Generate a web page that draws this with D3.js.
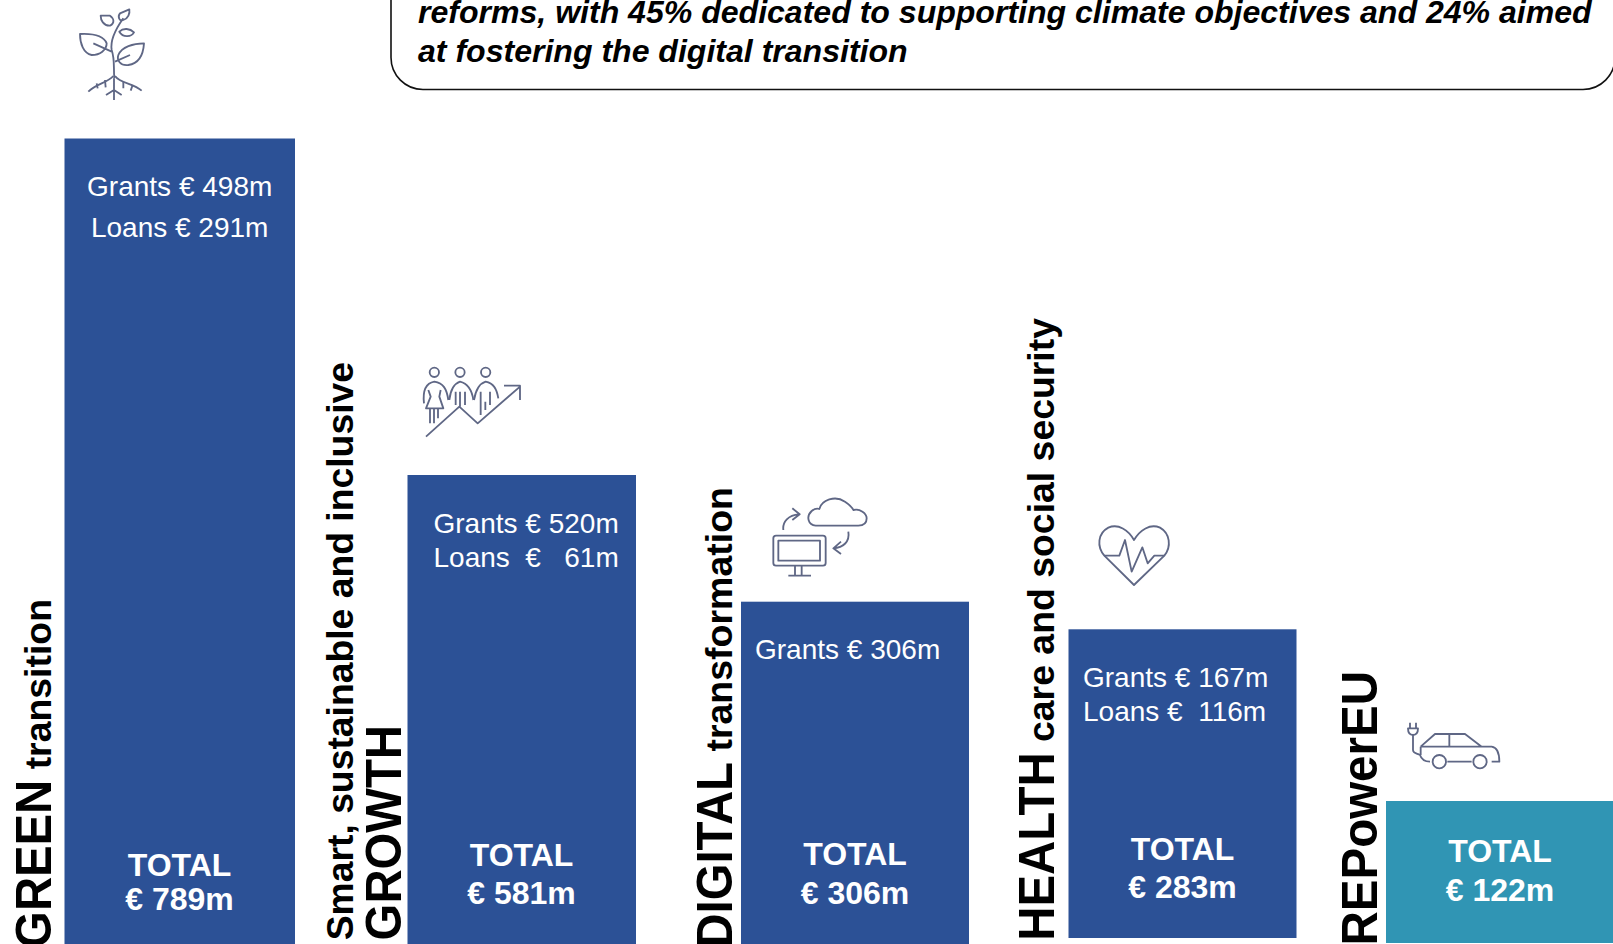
<!DOCTYPE html>
<html>
<head>
<meta charset="utf-8">
<script src="https://cdn.jsdelivr.net/npm/d3@7"></script>
<style>
    html, body { margin: 0; padding: 0; background: #fff; overflow: hidden; }
    svg { display: block; }
    text { font-family: "Liberation Sans", Arial, sans-serif; white-space: pre; }
</style>
</head>
<body>
<div id="chart"></div>
<script>
// --- DATA ---
const categories = ["GREEN", "GROWTH", "DIGITAL", "HEALTH", "REPowerEU"];
const totals = [789, 581, 306, 283, 122];
const grantLabels = ["Grants € 498m", "Grants € 520m", "Grants € 306m", "Grants € 167m", null];
const loanLabels = ["Loans € 291m", "Loans  €   61m", null, "Loans €  116m", null];
const calloutLines = [
    "reforms, with 45% dedicated to supporting climate objectives and 24% aimed",
    "at fostering the digital transition"
];
// [text, font size, stretch across the line]
const sideLabels = [
    [["GREEN", 47.3, 1.07], [" transition", 37.4, 1]],
    [["Smart, sustainable and inclusive", 37.3, 1]],
    [["GROWTH", 47.3, 1.07]],
    [["DIGITAL", 47.3, 1.07], [" transformation", 37.5, 1]],
    [["HEALTH", 47.3, 1.07], [" care and social security", 37.4, 1]],
    [["REPowerEU", 47.5, 1.07]]
];

// --- LAYOUT ---
const width = 1613, height = 944;
const barLeft = [64.5, 407.5, 741, 1068.5, 1386];
const barWidth = [230.5, 228.5, 228, 228, 235];
const barBottom = [950, 950, 950, 938, 943];
const detailX = [179.7, 433.5, 755, 1083, null];
const detailBase = [195.5, 532.5, 658.8, 686.7, null];
const detailStep = [41, 34, 0, 34, 0];
const totalBase = [[875.7, 910.3], [866, 904], [865, 904.3], [859.5, 898], [862, 901]];
const sidePos = [
    { x: 51, y: 599 },
    { x: 353, y: 362 },
    { x: 400.5, y: 725 },
    { x: 732, y: 487 },
    { x: 1054, y: 318 },
    { x: 1376.5, y: 671 }
];

const blue = "#2C5196", teal = "#3095B4", iconColor = "#5F6785";

const svg = d3.select("#chart").append("svg")
    .attr("width", width)
    .attr("height", height)
    .attr("viewBox", `0 0 ${width} ${height}`);

// --- SCALES ---
const xScale = d3.scaleOrdinal().domain(categories).range(barLeft);
const colorScale = d3.scaleOrdinal().domain(categories).range([blue, blue, blue, blue, teal]);

// The source bars are not drawn to scale, so y is piecewise between the totals
const yScale = d3.scaleLinear()
    .domain([122, 283, 306, 581, 789])
    .range([801, 629.3, 601.7, 475, 138.5]);

// --- BARS ---
svg.selectAll(".bar")
    .data(categories)
    .enter().append("rect")
    .attr("class", "bar")
    .attr("x", d => xScale(d))
    .attr("y", (d, i) => yScale(totals[i]))
    .attr("width", (d, i) => barWidth[i])
    .attr("height", (d, i) => barBottom[i] - yScale(totals[i]))
    .style("fill", d => colorScale(d));

// --- TEXT IN BARS ---
categories.forEach((d, i) => {
    const cx = xScale(d) + Math.min(barWidth[i], 228) / 2 + (i === 0 ? 1 : 0);
    svg.append("text")
        .attr("x", cx).attr("y", totalBase[i][0])
        .attr("text-anchor", "middle")
        .style("font-size", "32px").style("font-weight", "bold").style("fill", "#fff")
        .text("TOTAL");
    svg.append("text")
        .attr("x", cx).attr("y", totalBase[i][1])
        .attr("text-anchor", "middle")
        .style("font-size", "32px").style("font-weight", "bold").style("fill", "#fff")
        .text(`€ ${totals[i]}m`);

    [grantLabels[i], loanLabels[i]].forEach((label, k) => {
        if (!label) return;
        svg.append("text")
            .attr("x", detailX[i])
            .attr("y", detailBase[i] + k * detailStep[i])
            .attr("text-anchor", i === 0 ? "middle" : "start")
            .style("font-size", "28px").style("fill", "#fff")
            .text(label);
    });
});

// --- ROTATED LABELS ---
// Each label hangs from its top end; parts are placed backwards from there
sideLabels.forEach((parts, i) => {
    const pos = sidePos[i];
    const g = svg.append("g")
        .attr("transform", `translate(${pos.x},${pos.y}) rotate(-90)`);
    let offset = 0;
    parts.slice().reverse().forEach(p => {
        const t = g.append("text")
            .attr("transform", `translate(${-offset},0) scale(1,${p[2]})`)
            .attr("text-anchor", "end")
            .style("font-weight", "bold")
            .style("font-size", p[1] + "px")
            .style("fill", "#000")
            .text(p[0]);
        offset += t.node().getComputedTextLength();
    });
});

// --- CALLOUT ---
svg.append("rect")
    .attr("x", 391).attr("y", -100)
    .attr("width", 1224).attr("height", 189.5)
    .attr("rx", 32).attr("ry", 32)
    .style("fill", "none").style("stroke", "#111").style("stroke-width", 1.6);

svg.selectAll(".callout")
    .data(calloutLines)
    .enter().append("text")
    .attr("class", "callout")
    .attr("x", 418)
    .attr("y", (d, i) => 22.5 + i * 39)
    .style("font-size", "32.05px").style("font-weight", "bold").style("font-style", "italic")
    .text(d => d);

// --- ICONS (traced in a 3x space, same as the zoomed crops) ---
const icons = [
    { dx: 60, dy: 0, paths: [
        "M163 235C160 200 165 180 155 150C150 120 165 90 190 55",
        "M160 228C140 250 110 250 85 275M165 228C180 250 220 250 245 272M162 235V300M138 285L162 270L185 285",
        "M110 250L113 265M135 240L137 262M190 245L190 265M218 255L212 272",
        "M60 102C100 100 130 105 140 130C140 150 120 165 95 165C70 160 60 130 60 102ZM100 130L155 155",
        "M252 130C220 130 185 140 175 165C170 180 180 198 205 195C240 190 250 160 252 130ZM165 185L210 165",
        "M208 28L180 40C172 50 178 65 190 60C205 55 210 40 208 28Z",
        "M122 47L150 47C162 55 165 70 150 77C130 78 122 60 122 47Z",
        "M178 95C190 83 210 85 222 97C215 110 190 115 178 95Z"
    ] },
    { dx: 410, dy: 355, paths: [
        "M59 52a14 14 0 1 0 28 0a14 14 0 1 0 -28 0M136 52a14 14 0 1 0 28 0a14 14 0 1 0 -28 0M213 52a14 14 0 1 0 28 0a14 14 0 1 0 -28 0",
        "M42 145C38 110 45 85 73 80C100 85 110 100 115 135M55 105L62 125L48 160H100L88 125L92 105",
        "M60 160V205M72 160V205M84 160V190",
        "M118 135C122 100 135 85 150 80C170 85 185 100 190 135M137 110V150M150 110V155M165 110V150",
        "M192 135C198 100 210 85 227 80C250 85 260 100 265 130M212 110V180M226 140V165M240 110V150",
        "M48 245L148 155L203 205L330 95M282 92H330V135"
    ] },
    { dx: 765, dy: 485, paths: [
        "M33 152H174a8 8 0 0 1 8 8V234a8 8 0 0 1 -8 8H33a8 8 0 0 1 -8 -8V160a8 8 0 0 1 8 -8Z",
        "M40 167H165V227H40Z",
        "M90 242V272M110 242V272M70 272H138",
        "M152 122C130 120 122 95 140 78C150 70 158 70 163 72C170 45 210 30 240 50C255 60 262 68 265 75C285 70 305 85 305 100C305 115 295 122 280 122Z",
        "M55 135C52 110 70 90 102 88M82 70L104 88L82 105",
        "M250 140C255 170 235 188 205 190M228 170L205 190L228 207"
    ] },
    { dx: 1085, dy: 515, paths: [
        "M147 210L58 122C35 95 38 55 70 38C100 25 130 45 147 75C165 45 195 25 225 38C255 55 260 95 238 122Z",
        "M58 122H103L120 75L140 170L172 97L188 145L208 122H238"
    ] },
    { dx: 1400, dy: 710, paths: [
        "M30 38V55M48 38V55M24 55H54C54 68 48 75 39 75C30 75 24 68 24 55Z",
        "M39 75V120C39 130 50 130 60 135C65 150 75 155 90 155",
        "M62 110L105 72H195L245 110H275C290 112 298 125 298 155H275M148 72V110M62 110H245M62 110V135",
        "M98 155a20 20 0 1 0 40 0a20 20 0 1 0 -40 0M220 155a20 20 0 1 0 40 0a20 20 0 1 0 -40 0M142 155H215"
    ] }
];

icons.forEach(icon => {
    const g = svg.append("g")
        .attr("transform", `translate(${icon.dx},${icon.dy}) scale(${1 / 3})`);
    g.selectAll("path")
        .data(icon.paths)
        .enter().append("path")
        .attr("d", d => d)
        .style("fill", "none")
        .style("stroke", iconColor)
        .style("stroke-width", 5.5)
        .style("stroke-linejoin", "round");
});
</script>
</body>
</html>
